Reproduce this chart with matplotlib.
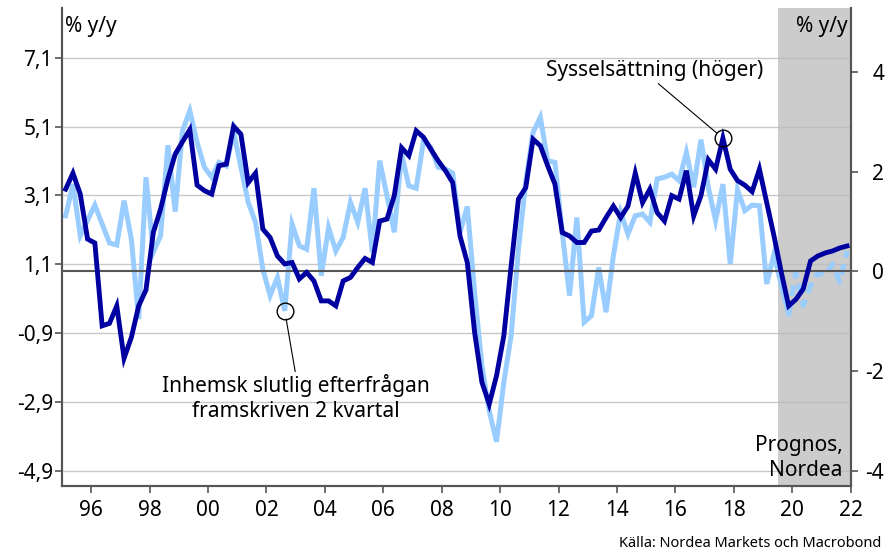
import matplotlib.pyplot as plt
import numpy as np

plt.rcParams['font.family'] = ['Noto Sans', 'DejaVu Sans']

DARK = '#0000a0'
LIGHT = '#99ccff'
AXCOL = '#555555'

# quarterly data, 1995Q1 - 2021Q4
start_year = 1995

# Sysselsättning, % y/y (right axis)
employment = [
    1.65, 1.97, 1.55, 0.65,
    0.57, -1.09, -1.04, -0.69,
    -1.74, -1.32, -0.69, -0.37,
    0.78, 1.25, 1.85, 2.35,
    2.60, 2.84, 1.73, 1.62,
    1.55, 2.12, 2.15, 2.91,
    2.75, 1.78, 1.97, 0.85,
    0.68, 0.31, 0.15, 0.18,
    -0.15, -0.02, -0.19, -0.59,
    -0.59, -0.69, -0.19, -0.12,
    0.08, 0.26, 0.18, 1.01,
    1.05, 1.52, 2.48, 2.32,
    2.82, 2.69, 2.45, 2.22,
    2.02, 1.78, 0.71, 0.18,
    -1.22, -2.22, -2.66, -2.09,
    -1.29, 0.11, 1.45, 1.68,
    2.65, 2.52, 2.12, 1.75,
    0.78, 0.71, 0.58, 0.58,
    0.81, 0.83, 1.08, 1.31,
    1.08, 1.31, 1.97, 1.38,
    1.65, 1.18, 1.01, 1.52,
    1.45, 2.02, 1.11, 1.52,
    2.24, 2.05, 2.67, 2.05,
    1.82, 1.73, 1.60, 2.05,
    1.38, 0.71, -0.02, -0.69,
    -0.56, -0.35, 0.21, 0.31,
    0.37, 0.41, 0.47, 0.51,
]

# Inhemsk slutlig efterfrågan, framskriven 2 kvartal, % y/y (left axis)
demand = [
    2.51, 3.43, 1.93, 2.38,
    2.82, 2.27, 1.72, 1.66,
    2.95, 1.83, -0.49, 3.63,
    1.45, 1.93, 4.56, 2.63,
    4.98, 5.56, 4.64, 3.92,
    3.63, 4.06, 3.96, 4.95,
    3.92, 2.90, 2.32, 0.96,
    0.19, 0.72, -0.25, 2.27,
    1.64, 1.54, 3.31, 0.77,
    2.17, 1.49, 1.88, 2.90,
    2.32, 3.31, 1.45, 4.11,
    3.09, 2.03, 4.30, 3.38,
    3.31, 4.69, 4.50, 3.92,
    3.87, 3.75, 2.03, 2.78,
    0.29, -1.84, -3.15, -4.05,
    -2.33, -0.97, 1.54, 3.48,
    4.93, 5.37, 4.11, 4.06,
    2.03, 0.19, 2.46, -0.58,
    -0.39, 1.01, -0.29, 1.35,
    2.61, 1.98, 2.51, 2.56,
    2.32, 3.58, 3.63, 3.72,
    3.53, 4.35, 3.34, 4.72,
    3.34, 2.37, 3.43, 1.11,
    3.27, 2.66, 2.82, 2.80,
    0.53, 1.40, 0.48, -0.34,
    0.87, -0.10, 0.48, 0.87,
    0.77, 1.11, 0.58, 1.49,
]

left_ticks = [-4.9, -2.9, -0.9, 1.1, 3.1, 5.1, 7.1]
right_ticks = [-4, -2, 0, 2, 4]
year_ticks = list(range(1996, 2023, 2))
forecast_start = 2019.5
last_actual = 99  # 2019Q4, demand dashed from here
emp_mark = 90     # 2017Q3
dem_mark = 30     # 2002Q3

dates = start_year + (np.arange(len(employment)) + 0.5) / 4

fig = plt.figure(figsize=(8.87, 5.52), dpi=100)
ax = fig.add_axes([62 / 887, 66 / 552, 788.7 / 887, 478 / 552])
ax2 = ax.twinx()

ax.set_xlim(1995, 2022)
ax.set_ylim(-5.336, 8.543)
ax2.set_ylim(-4.30, 5.28)

ax.axvspan(forecast_start, 2022, color='#cccccc', lw=0, zorder=0)
for t in left_ticks:
    ax.axhline(t, color='#bbbbbb', lw=1.0, alpha=0.8, zorder=1)

ax.plot(dates[:last_actual + 1], demand[:last_actual + 1], color=LIGHT, lw=3.6,
        solid_joinstyle='miter', zorder=3)
ax.plot(dates[last_actual:], demand[last_actual:], color=LIGHT, lw=3.6,
        linestyle=(0, (2.2, 1.4)), zorder=3)

ax2.axhline(0, color=AXCOL, lw=1.5, zorder=1)
ax2.plot(dates, employment, color=DARK, lw=3.5, solid_joinstyle='miter', zorder=3)

# annotations
ax2.plot(dates[emp_mark], employment[emp_mark], 'o', ms=12, mfc='none', mec='black',
         mew=1.0, zorder=5)
ax2.annotate('Sysselsättning (höger)', xy=(dates[emp_mark], employment[emp_mark]),
             xytext=(2015.3, 4.03), ha='center', va='center', fontsize=15, zorder=6,
             arrowprops=dict(arrowstyle='-', color='black', lw=0.8, shrinkA=0,
                             shrinkB=6, relpos=(0.5, 0)))
ax.plot(dates[dem_mark], demand[dem_mark], 'o', ms=12, mfc='none', mec='black',
        mew=1.0, zorder=5)
ax.annotate('Inhemsk slutlig efterfrågan\nframskriven 2 kvartal',
            xy=(dates[dem_mark], demand[dem_mark]), xytext=(2003.0, -2.78),
            ha='center', va='center', fontsize=15, zorder=6,
            arrowprops=dict(arrowstyle='-', color='black', lw=0.8, shrinkA=0,
                            shrinkB=6, relpos=(0.5, 1)))

# axes styling
ax.set_xticks(year_ticks)
ax.set_xticklabels(['%02d' % (y % 100) for y in year_ticks])
ax.set_yticks(left_ticks)
ax.set_yticklabels([('%.1f' % t).replace('.', ',') for t in left_ticks])
ax2.set_yticks(right_ticks)
ax2.set_yticklabels([str(t) for t in right_ticks], ha='right')

ax.tick_params(axis='x', direction='out', length=5, width=1.2, color=AXCOL,
               labelsize=15, pad=5)
ax.tick_params(axis='y', direction='out', length=5, width=1.2, color=AXCOL,
               labelsize=15, pad=1.5)
ax2.tick_params(axis='y', direction='out', length=5, width=1.2, color=AXCOL,
                labelsize=15, pad=19)

for a in (ax, ax2):
    a.spines['top'].set_visible(False)
    for s in ('left', 'right', 'bottom'):
        a.spines[s].set_color(AXCOL)
        a.spines[s].set_linewidth(1.5)

ax.text(0.004, 0.961, '% y/y', transform=ax.transAxes, ha='left', va='center',
        fontsize=15)
ax.text(0.9966, 0.961, '% y/y', transform=ax.transAxes, ha='right', va='center',
        fontsize=15, zorder=6)
ax.text(0.990, 0.058, 'Prognos,\nNordea', transform=ax.transAxes, ha='right',
        va='center', fontsize=15, linespacing=1.25, zorder=6)
fig.text(0.994, 0.0163, 'Källa: Nordea Markets och Macrobond', ha='right',
         va='center', fontsize=10.5)

fig.savefig('out.png', dpi=100)
